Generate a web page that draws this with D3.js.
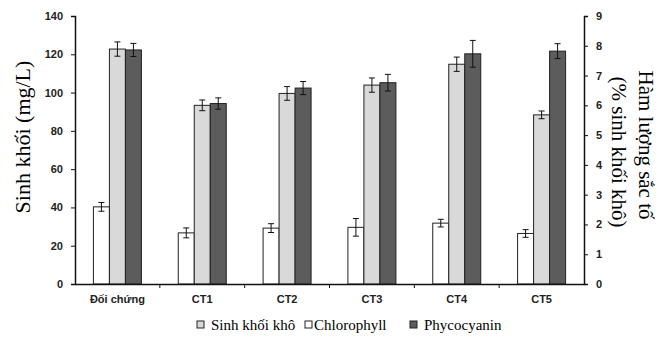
<!DOCTYPE html>
<html>
<head>
<meta charset="utf-8">
<script src="https://cdn.jsdelivr.net/npm/d3@7"></script>
<style>
  body { margin: 0; background: #fff; }
  .tick text { font-family: Arial, "Liberation Sans", sans-serif; font-weight: bold; font-size: 11px; fill: #222; }
</style>
</head>
<body>
<div id="chart"></div>
<script>
// Data
const groups = ["Đối chứng", "CT1", "CT2", "CT3", "CT4", "CT5"];
// white bars, left axis (mg/L)
const sinhKhoi = [40.3, 26.7, 29.2, 29.6, 31.8, 26.4];
const sinhKhoiErr = [2.3, 2.6, 2.3, 4.6, 2.0, 2.0];
// light grey bars, right axis (%)
const chlorophyll = [7.89, 6.0, 6.40, 6.68, 7.38, 5.68];
const chlorophyllErr = [0.24, 0.18, 0.23, 0.24, 0.24, 0.13];
// dark grey bars, right axis (%)
const phycocyanin = [7.86, 6.06, 6.58, 6.76, 7.73, 7.82];
const phycocyaninErr = [0.22, 0.19, 0.22, 0.28, 0.45, 0.25];
const leftTicks = [0, 20, 40, 60, 80, 100, 120, 140];
const rightTicks = [0, 1, 2, 3, 4, 5, 6, 7, 8, 9];

const W = 662, H = 340;
const margin = { top: 16, right: 78, bottom: 56, left: 75 };
const width = W - margin.left - margin.right;
const height = H - margin.top - margin.bottom;

const svg = d3.select("#chart").append("svg")
  .attr("width", W).attr("height", H);
const g = svg.append("g")
  .attr("transform", "translate(" + margin.left + "," + margin.top + ")");

const x = d3.scaleBand().domain(groups).range([0, width]).paddingInner(0).paddingOuter(0);
const yL = d3.scaleLinear().domain([0, 140]).range([height, 0]);
const yR = d3.scaleLinear().domain([0, 9]).range([height, 0]);
const barW = 16;

const series = [
  { vals: sinhKhoi, err: sinhKhoiErr, y: yL, fill: "#ffffff", off: -1.5 },
  { vals: chlorophyll, err: chlorophyllErr, y: yR, fill: "#d9d9d9", off: -0.5 },
  { vals: phycocyanin, err: phycocyaninErr, y: yR, fill: "#5c5c5c", off: 0.5 }
];

series.forEach(function(s) {
  const bx = function(i) { return x(groups[i]) + x.bandwidth() / 2 + s.off * barW; };
  g.selectAll(null).data(s.vals).enter().append("rect")
    .attr("x", function(d, i) { return bx(i); })
    .attr("y", function(d) { return s.y(d); })
    .attr("width", barW)
    .attr("height", function(d) { return height - s.y(d); })
    .attr("fill", s.fill)
    .attr("stroke", "#222")
    .attr("stroke-width", 1);

  // error bars
  const eb = g.selectAll(null).data(s.vals).enter().append("g")
    .attr("stroke", "#111").attr("stroke-width", 1);
  eb.append("line")
    .attr("x1", function(d, i) { return bx(i) + barW / 2; })
    .attr("x2", function(d, i) { return bx(i) + barW / 2; })
    .attr("y1", function(d, i) { return s.y(d - s.err[i]); })
    .attr("y2", function(d, i) { return s.y(d + s.err[i]); });
  [-1, 1].forEach(function(sign) {
    eb.append("line")
      .attr("x1", function(d, i) { return bx(i) + barW / 2 - 3; })
      .attr("x2", function(d, i) { return bx(i) + barW / 2 + 3; })
      .attr("y1", function(d, i) { return s.y(d + sign * s.err[i]); })
      .attr("y2", function(d, i) { return s.y(d + sign * s.err[i]); });
  });
});

// axes
const leftAxis = g.append("g")
  .call(d3.axisLeft(yL).tickValues(leftTicks).tickSize(4).tickPadding(8));
const rightAxis = g.append("g")
  .attr("transform", "translate(" + width + ",0)")
  .call(d3.axisRight(yR).tickValues(rightTicks).tickSize(4).tickPadding(8));
const bottomAxis = g.append("g")
  .attr("transform", "translate(0," + height + ")")
  .call(d3.axisBottom(x).tickSize(0).tickPadding(11));
// boundary ticks between groups
g.selectAll(null).data(groups.slice(1)).enter().append("line")
  .attr("x1", function(d) { return x(d); })
  .attr("x2", function(d) { return x(d); })
  .attr("y1", height).attr("y2", height + 4)
  .attr("stroke", "#111");

[leftAxis, rightAxis, bottomAxis].forEach(function(a) {
  a.select(".domain").attr("stroke", "#111").attr("stroke-width", 1.5);
  a.selectAll(".tick line").attr("stroke", "#111");
});

// axis titles
const serif = "'Liberation Serif', 'Times New Roman', serif";
svg.append("text")
  .attr("transform", "translate(30,137) rotate(-90)")
  .attr("text-anchor", "middle")
  .style("font-family", serif).style("font-size", "22px")
  .text("Sinh khối (mg/L)");
svg.append("text")
  .attr("transform", "translate(639,145) rotate(90)")
  .attr("text-anchor", "middle")
  .style("font-family", serif).style("font-size", "21px")
  .text("Hàm lượng sắc tố");
svg.append("text")
  .attr("transform", "translate(612,152) rotate(90)")
  .attr("text-anchor", "middle")
  .style("font-family", serif).style("font-size", "21px")
  .text("(% sinh khối khô)");

// legend
const legendItems = [
  { label: "Sinh khối khô", fill: "#d9d9d9", x: 197 },
  { label: "Chlorophyll", fill: "#ffffff", x: 305 },
  { label: "Phycocyanin", fill: "#5c5c5c", x: 410 }
];
const lg = svg.append("g");
legendItems.forEach(function(d) {
  lg.append("rect")
    .attr("x", d.x).attr("y", 321)
    .attr("width", 7).attr("height", 7)
    .attr("fill", d.fill).attr("stroke", "#222");
  lg.append("text")
    .attr("x", d.x + (d.label === "Chlorophyll" ? 9 : 14)).attr("y", 330)
    .style("font-family", serif).style("font-size", "15px")
    .text(d.label);
});
</script>
</body>
</html>
